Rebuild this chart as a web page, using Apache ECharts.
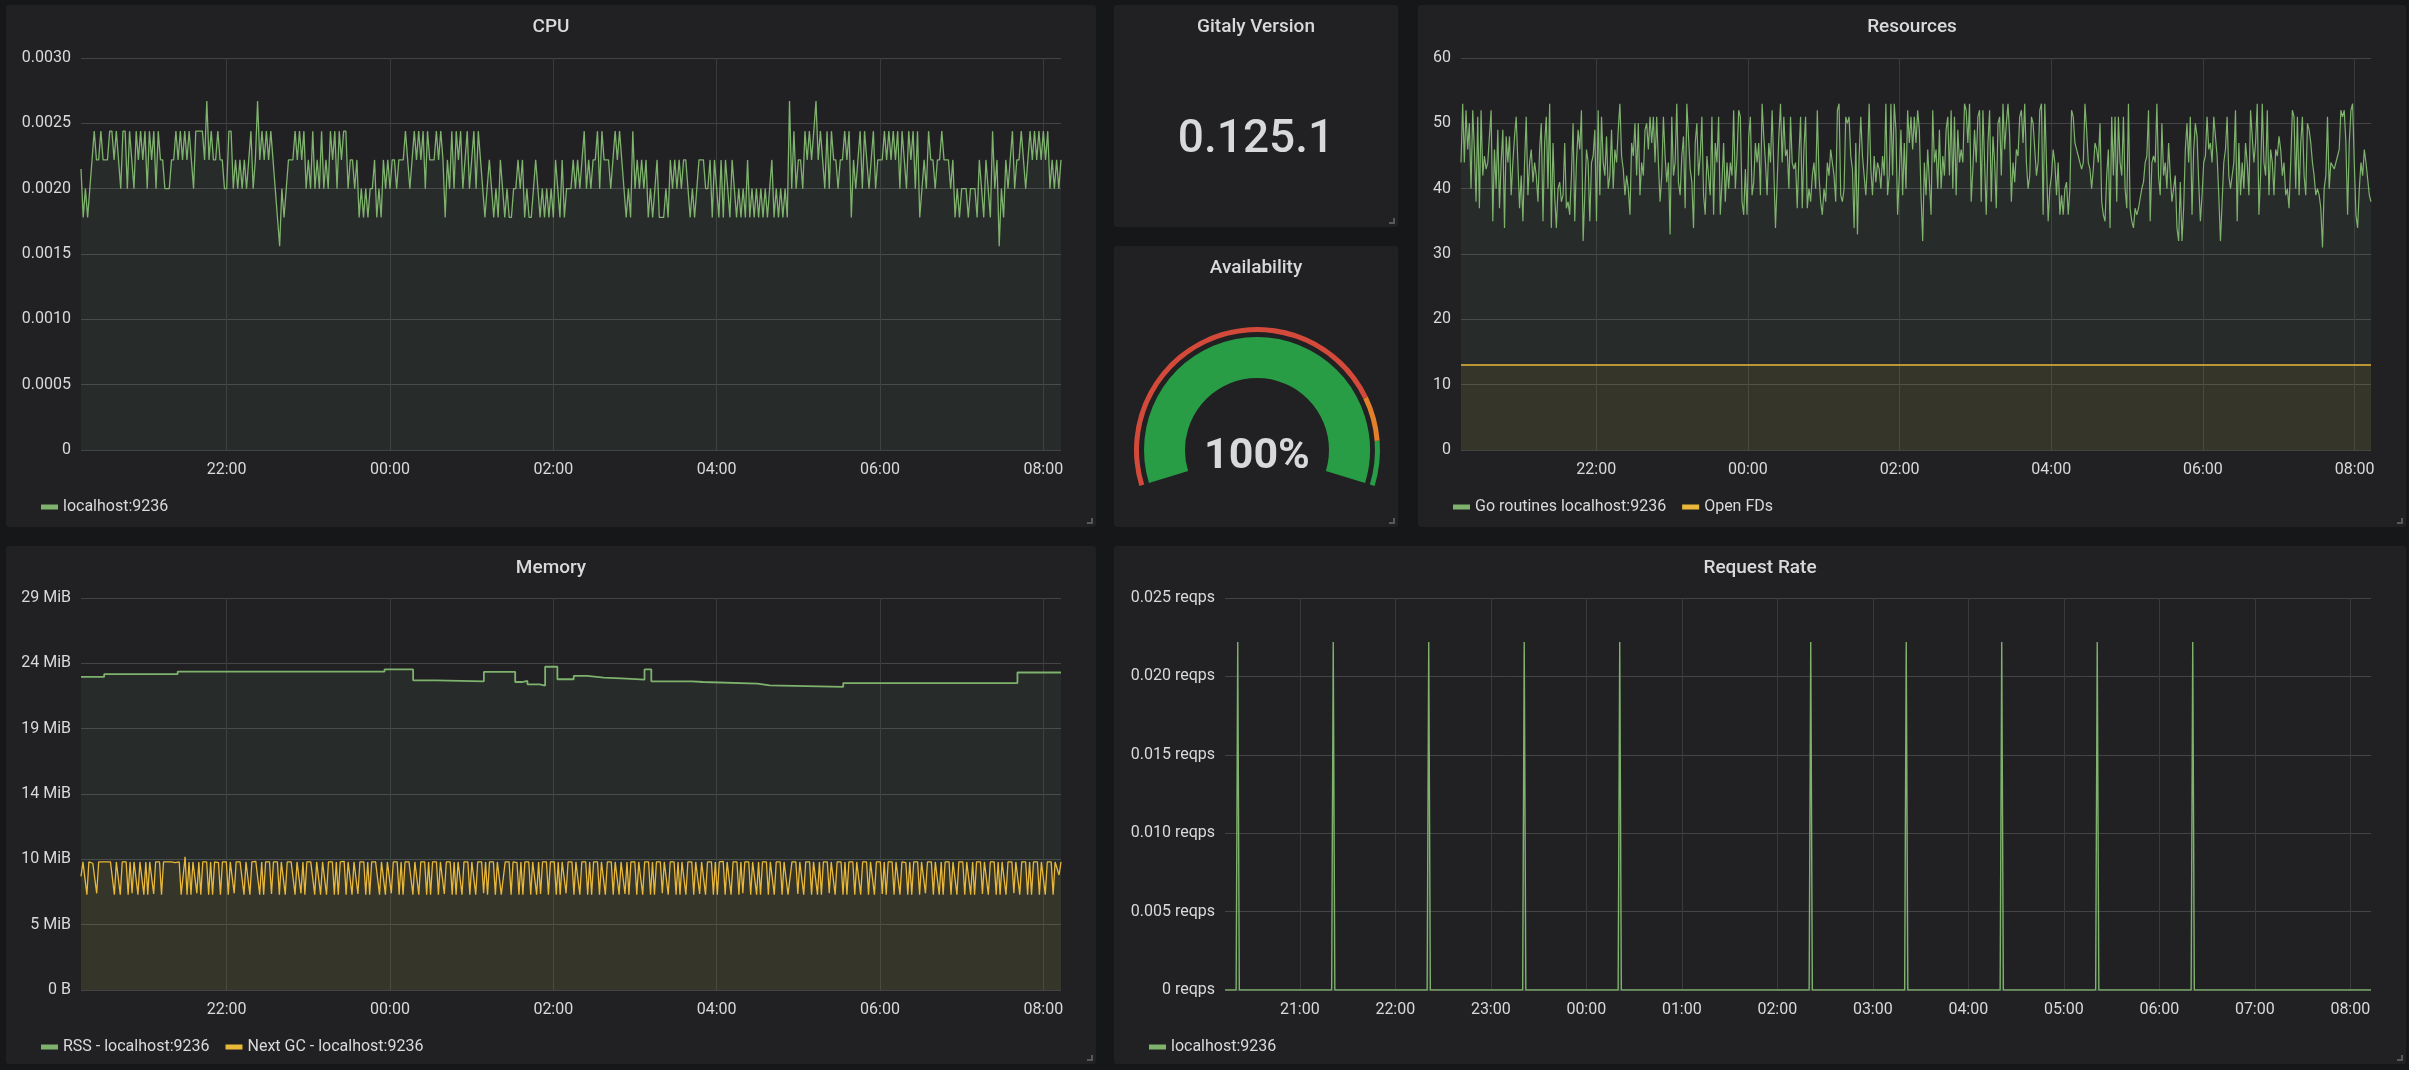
<!DOCTYPE html>
<html>
<head>
<meta charset="utf-8">
<title>Gitaly</title>
<script src="https://cdn.jsdelivr.net/npm/echarts@6/dist/echarts.min.js"></script>
<style>
  html, body { margin: 0; padding: 0; background: #161719; }
  body { width: 2409px; height: 1070px; position: relative; overflow: hidden; font-family: Roboto, sans-serif; }
  .panel { position: absolute; background: #212124; border-radius: 3px; }
  .panel::after { content: ""; position: absolute; right: 3px; bottom: 3px; width: 4px; height: 4px;
    border-right: 2px solid #58585b; border-bottom: 2px solid #58585b; }
</style>
</head>
<body>
<div class="panel" id="cpu" style="left:6px;top:5px;width:1090px;height:522px"></div>
<div class="panel" id="version" style="left:1114px;top:5px;width:284px;height:222px"></div>
<div class="panel" id="availability" style="left:1114px;top:246px;width:284px;height:281px"></div>
<div class="panel" id="resources" style="left:1418px;top:5px;width:988px;height:522px"></div>
<div class="panel" id="memory" style="left:6px;top:546px;width:1090px;height:518px"></div>
<div class="panel" id="requests" style="left:1114px;top:546px;width:1292px;height:518px"></div>
<script>
// time window of the dashboard
const rangeFrom = "20:13";
const rangeTo = "08:13";

// CPU (localhost:9236), evenly sampled over the window
const cpuUsage = [
  0.00215,0.00178,0.0020,0.00178,0.0020,0.00222,0.00244,0.00222,0.00222,0.00244,
  0.00222,0.00222,0.00222,0.00244,0.00244,0.00222,0.00244,0.00222,0.0020,0.00244,
  0.00244,0.0020,0.00244,0.00222,0.0020,0.00244,0.00222,0.00244,0.00222,0.00244,
  0.0020,0.00244,0.00222,0.00244,0.0020,0.00244,0.00222,0.00222,0.0020,0.0020,
  0.0020,0.00222,0.00222,0.00244,0.00222,0.00244,0.00222,0.00244,0.00222,0.00244,
  0.00222,0.0020,0.00244,0.00244,0.00244,0.00244,0.00222,0.00267,0.00222,0.00244,
  0.00222,0.00222,0.00244,0.00222,0.00222,0.0020,0.0020,0.00244,0.00244,0.0020,
  0.00222,0.0020,0.00222,0.0020,0.00222,0.0020,0.00222,0.00244,0.0020,0.00222,
  0.00267,0.00222,0.00244,0.00222,0.00244,0.00222,0.00244,0.00222,0.0020,0.00178,
  0.00156,0.0020,0.00178,0.0020,0.00222,0.00222,0.00222,0.00244,0.00222,0.00244,
  0.00222,0.00244,0.0020,0.00222,0.0020,0.00244,0.0020,0.00222,0.0020,0.00244,
  0.0020,0.00222,0.0020,0.00244,0.00222,0.00244,0.0020,0.00244,0.00222,0.00244,
  0.00244,0.0020,0.00222,0.00222,0.0020,0.00222,0.00178,0.0020,0.00178,0.0020,
  0.00178,0.0020,0.0020,0.00222,0.00178,0.0020,0.00178,0.00222,0.0020,0.00222,
  0.0020,0.00222,0.00222,0.0020,0.00222,0.00222,0.00222,0.00244,0.00222,0.0020,
  0.00222,0.00244,0.00222,0.00244,0.00222,0.00244,0.0020,0.00244,0.00222,0.00222,
  0.00222,0.00244,0.00222,0.00244,0.00222,0.00178,0.00222,0.0020,0.00244,0.0020,
  0.00244,0.00222,0.00244,0.0020,0.00222,0.00244,0.0020,0.00222,0.00244,0.0020,
  0.00244,0.00222,0.0020,0.00178,0.0020,0.00222,0.0020,0.00178,0.0020,0.00178,
  0.00222,0.0020,0.00178,0.0020,0.00178,0.00178,0.0020,0.0020,0.00222,0.0020,0.00222,
  0.00178,0.0020,0.00178,0.00178,0.0020,0.00222,0.0020,0.00178,0.0020,0.00178,
  0.0020,0.00178,0.0020,0.00178,0.00222,0.0020,0.00178,0.00222,0.00178,0.0020,
  0.0020,0.0020,0.00222,0.0020,0.00222,0.0020,0.00222,0.00244,0.0020,0.00222,
  0.0020,0.00222,0.00222,0.00244,0.0020,0.00244,0.00222,0.00222,0.00222,0.0020,
  0.00222,0.00244,0.00222,0.00244,0.00222,0.0020,0.00178,0.0020,0.00178,0.00244,
  0.0020,0.00222,0.0020,0.00222,0.0020,0.00222,0.00178,0.0020,0.00178,0.0020,
  0.00222,0.00178,0.00178,0.00178,0.0020,0.00178,0.00222,0.0020,0.00222,0.0020,
  0.00222,0.0020,0.00222,0.00222,0.0020,0.00178,0.0020,0.00178,0.0020,0.00222,
  0.00222,0.00222,0.0020,0.0020,0.00222,0.00178,0.00222,0.0020,0.00178,0.00222,
  0.00178,0.00222,0.0020,0.00178,0.00222,0.0020,0.00178,0.0020,0.00178,0.0020,
  0.00178,0.00222,0.00178,0.0020,0.00178,0.0020,0.00178,0.0020,0.00178,0.0020,
  0.00178,0.0020,0.00222,0.00178,0.0020,0.00178,0.0020,0.00178,0.0020,0.00178,
  0.00267,0.0020,0.00244,0.0020,0.00222,0.00222,0.0020,0.00244,0.00222,0.00244,
  0.00222,0.00244,0.00267,0.00222,0.00244,0.00222,0.0020,0.00244,0.0020,0.00244,
  0.00222,0.00222,0.0020,0.00222,0.00222,0.00244,0.00222,0.00244,0.00178,0.00222,
  0.0020,0.00222,0.00244,0.0020,0.00244,0.00222,0.0020,0.00222,0.00244,0.0020,
  0.00222,0.00222,0.00222,0.00244,0.00222,0.00244,0.00222,0.00244,0.00222,0.00244,
  0.0020,0.00244,0.00222,0.0020,0.00244,0.00222,0.00244,0.0020,0.00244,0.00178,
  0.0020,0.00222,0.0020,0.00244,0.00222,0.00222,0.0020,0.00222,0.00222,0.00244,
  0.00222,0.00222,0.00222,0.0020,0.00222,0.00178,0.0020,0.00178,0.0020,0.0020,
  0.0020,0.00178,0.0020,0.0020,0.0020,0.00178,0.00222,0.0020,0.00178,0.00222,
  0.0020,0.00178,0.00244,0.0020,0.00222,0.00156,0.0020,0.00178,0.00222,0.0020,
  0.00222,0.00244,0.0020,0.00222,0.00222,0.00244,0.00222,0.0020,0.00222,0.00244,
  0.00222,0.00244,0.00222,0.00244,0.00222,0.00244,0.00222,0.00244,0.0020,0.00222,
  0.0020,0.00222,0.0020,0.00222
];

// Resources: go routines (evenly sampled) and open file descriptors
const goRoutines = [
  44,53,44,52,46,50,40,52,46,38,51,37,52,42,45,43,44,48,52,35,46,40,49,37,44,49,34,48,44,48,
  39,44,48,51,44,37,42,35,44,51,39,44,46,41,44,42,38,46,50,35,47,51,40,53,34,47,39,34,40,41,
  38,39,47,37,38,36,42,50,35,44,49,46,52,32,39,46,44,35,44,45,49,35,52,39,51,44,42,48,40,42,
  49,40,46,44,49,53,45,43,39,42,40,36,47,45,50,42,50,39,44,42,49,50,46,51,47,51,44,51,44,38,
  42,51,45,41,44,33,51,42,44,53,41,39,45,48,37,53,53,43,41,34,47,50,42,45,51,39,36,45,42,39,
  51,36,47,44,51,36,41,47,38,44,40,44,42,52,40,45,52,51,38,36,43,36,48,51,39,41,47,44,47,39,
  53,48,44,39,47,44,52,43,34,34,48,53,44,51,45,46,40,51,44,43,44,37,45,51,37,46,51,37,40,38,
  42,44,40,52,42,38,36,40,38,44,42,46,46,42,38,52,53,39,38,40,51,50,51,45,43,34,47,33,45,51,
  45,42,39,44,53,43,39,45,41,44,43,40,45,42,53,39,42,53,42,53,49,36,42,49,39,47,40,52,47,51,
  46,51,47,52,49,
  39,32,44,39,46,46,36,52,44,46,40,49,40,45,42,49,51,42,52,40,51,39,49,44,46,44,53,52,47,53,
  38,43,49,44,51,52,38,52,44,36,47,52,38,48,44,37,50,51,42,53,46,50,53,48,38,44,41,46,45,51,
  52,47,53,44,40,42,51,50,46,42,44,52,53,36,53,44,35,40,42,46,44,39,44,36,39,36,40,41,36,40,
  52,51,47,46,45,44,43,44,53,49,44,43,40,43,47,46,44,50,38,36,35,42,46,34,51,42,51,38,51,44,
  42,51,40,37,53,37,35,34,37,36,37,37,40,41,44,45,52,35,44,45,44,53,42,39,50,42,44,40,47,42,
  38,38,42,34,32,41,32,37,46,50,44,51,36,46,50,48,41,35,39,44,45,51,46,47,44,51,48,45,39,32,
  38,44,46,51,42,40,40,44,52,35,47,39,44,40,47,44,39,52,52,44,47,53,36,42,53,44,42,52,39,46,
  44,39,46,45,48,46,42,44,39,40,37,44,52,51,40,51,39,47,51,42,39,50,49,47,44,42,39,40,39,37,
  31,40,42,51,40,44,44,43,44,45,46,52,51,52,47,36,47,52,53,44,36,34,40,44,42,46,44,44,39,38
];
const openFds = [13,13,13,13,13,13,13,13,13,13,13,13,13];

// Memory in MB (1e6 bytes): RSS changes (held until the next time) and Next GC (evenly sampled)
const rssTimes = ["20:13","20:30","21:24","23:56","00:17","00:34","01:09","01:32","01:37","01:41","01:50","01:54","02:03",
  "02:15","02:25","02:37","02:50","03:07","03:12","03:42","03:50","04:30","04:39","05:33","07:41","08:13"];
const rssMB = [23.96,24.17,24.37,24.53,23.70,23.62,24.35,23.57,23.65,23.39,23.30,24.74,23.78,
  24.04,23.91,23.85,23.75,24.53,23.62,23.57,23.44,23.31,23.20,23.49,24.30,24.30];
const nextGcMB = [
  8.7,9.8,9.8,7.3,9.8,9.8,9.7,9.8,7.4,9.8,9.8,9.8,9.8,9.8,9.75,9.8,9.8,7.3,9.8,9.8,7.3,9.8,9.8,9.8,7.3,
  9.8,7.4,9.8,9.75,7.3,9.8,9.8,7.3,9.8,7.3,9.8,9.8,7.35,9.8,9.8,9.8,7.3,9.8,9.8,9.8,9.85,9.8,9.8,9.75,9.8,
  9.8,7.3,7.3,10.2,7.3,9.8,7.3,9.8,9.8,7.4,9.8,7.3,9.8,9.8,9.8,7.3,9.8,7.3,9.8,9.8,9.75,7.3,9.8,9.8,9.8,
  7.3,9.8,9.8,7.4,9.8,9.8,9.8,9.8,7.3,9.8,9.8,7.3,9.8,9.8,9.85,9.8,7.3,9.8,7.3,9.8,9.8,9.8,7.35,9.8,9.8,
  9.8,7.3,9.8,9.8,7.3,9.8,9.75,9.8,9.8,7.3,9.8,9.8,7.4,9.8,7.3,9.8,9.8,9.8,9.8,7.3,9.8,9.8,7.3,9.8,9.8,
  7.3,9.8,9.8,9.8,7.3,9.8,7.3,9.8,9.8,9.85,7.3,9.8,9.8,7.3,9.8,9.8,7.35,9.8,9.8,9.8,7.3,9.8,7.3,9.8,9.8,
  9.8,9.75,7.3,9.8,9.8,7.3,9.8,9.8,7.4,9.8,9.8,9.8,7.3,9.8,7.3,9.8,9.8,9.8,9.8,7.3,9.8,9.8,7.3,9.8,9.75,
  9.8,7.3,9.8,7.3,9.8,9.8,9.8,7.3,9.8,9.8,7.35,9.8,9.8,9.8,7.3,9.8,7.3,9.8,9.8,7.3,9.8,9.85,9.8,7.3,9.8,
  9.8,7.3,9.8,9.8,9.8,7.4,9.8,7.3,9.8,9.8,9.8,7.3,9.8,9.8,7.3,7.3,9.8,9.8,9.8,7.3,9.8,9.8,9.75,7.3,9.8,
  7.3,9.8,9.8,9.8,7.3,9.8,9.8,7.3,9.8,7.35,9.8,9.8,9.8,7.3,9.8,9.8,9.8,7.3,9.8,7.3,9.8,9.8,7.4,9.8,9.8,
  9.8,7.3,9.8,9.8,7.3,9.8,9.8,9.8,7.3,9.8,7.3,9.8,9.85,9.8,7.3,9.8,9.8,7.3,9.8,9.8,9.8,7.3,9.8,9.8,7.3,
  9.8,9.8,7.35,9.8,7.3,9.8,9.8,9.8,7.3,9.8,9.8,7.3,9.8,9.75,9.8,7.3,9.8,7.3,9.8,9.8,9.8,7.4,9.8,9.8,7.3,
  9.8,9.8,9.8,7.3,9.8,7.3,9.8,9.8,7.3,9.8,9.8,9.8,7.3,9.8,9.8,7.35,9.8,9.8,7.3,9.8,9.8,9.8,7.3,9.8,7.3,
  9.8,9.8,9.85,7.3,9.8,9.8,7.3,9.8,9.8,9.8,7.3,9.8,7.4,9.8,9.8,9.8,7.3,9.8,9.8,7.3,9.8,7.3,9.8,9.8,9.8,
  7.3,9.8,9.8,7.3,9.8,9.75,9.8,7.3,9.8,9.8,7.3,7.3,9.8,9.8,9.8,7.35,9.8,9.8,7.3,9.8,9.8,9.8,7.3,9.8,9.8,
  7.3,9.8,7.3,9.8,9.8,9.8,7.4,9.8,9.8,7.3,9.8,9.8,9.8,7.3,9.8,7.3,9.8,9.85,9.8,7.3,9.8,9.8,7.3,9.8,9.8,
  9.8,7.3,9.8,9.8,7.3,9.8,9.8,9.8,7.35,9.8,7.3,9.8,9.8,9.8,7.3,9.8,9.8,7.3,9.8,9.8,9.75,7.3,9.8,7.3,9.8,
  9.8,9.8,7.3,9.8,9.8,7.4,9.8,9.8,9.8,7.3,9.8,9.8,7.3,9.8,7.3,9.8,9.8,9.8,7.3,9.8,9.8,7.3,9.8,9.85,9.8,
  7.3,9.8,9.8,7.3,9.8,7.3,9.8,9.8,9.8,7.35,9.8,9.8,7.3,9.8,9.8,9.8,7.3,9.8,7.3,9.8,9.8,7.3,9.8,9.8,9.8,
  7.4,9.8,9.8,7.3,9.8,9.8,9.8,7.3,9.8,7.3,9.8,9.8,9.8,7.3,9.8,9.8,7.3,9.8,9.75,9.8,7.3,9.8,9.8,8.8,9.8
];

// Request rate samples (reqps)
const reqTimes = ["20:13","20:20","20:21","20:22","21:20","21:21","21:22","22:20","22:21","22:22",
  "23:20","23:21","23:22","00:20","00:21","00:22","02:20","02:21","02:22","03:20","03:21","03:22",
  "04:20","04:21","04:22","05:20","05:21","05:22","06:20","06:21","06:22","08:13"];
const reqRates = [0,0,0.0222,0,0,0.0222,0,0,0.0222,0,
  0,0.0222,0,0,0.0222,0,0,0.0222,0,0,0.0222,0,
  0,0.0222,0,0,0.0222,0,0,0.0222,0,0];

// single stats
const gitalyVersion = "0.125.1";
const availability = 100;
const availabilityThresholds = [80, 90];

// ---------------------------------------------------------------
const TEXT = "#d8d9da";
const GRID_H = "#444447";
const GRID_V = "#3a3a3d";
const GREEN = "#7eb26d";
const YELLOW = "#eab839";
const GREEN_FILL = "rgba(126,178,109,0.1)";
const YELLOW_FILL = "rgba(234,184,57,0.1)";
const FONT = "Roboto";

// "HH:MM" -> timestamp; evening hours belong to the first day
function ts(hm) {
  const [h, m] = hm.split(":").map(Number);
  return new Date(2019, 0, h >= 12 ? 1 : 2, h, m).getTime();
}
const tStart = ts(rangeFrom);
const tEnd = ts(rangeTo);

function spread(values) {
  const step = (tEnd - tStart) / (values.length - 1);
  return values.map((v, i) => [tStart + i * step, v]);
}
function pairs(times, values) {
  return times.map((t, i) => [ts(t), values[i]]);
}

function timeAxis(hours) {
  const iv = hours * 3600 * 1000 * 1.05;
  return {
    type: "time", min: tStart, max: tEnd,
    minInterval: iv, maxInterval: iv,
    axisLine: { show: false }, axisTick: { show: false },
    axisLabel: { color: TEXT, fontSize: 16, fontFamily: FONT, margin: 12, formatter: "{HH}:{mm}",
      showMinLabel: false, showMaxLabel: false },
    splitLine: { show: true, showMinLine: false, showMaxLine: false, lineStyle: { color: GRID_V, width: 1 } }
  };
}

function valueAxis(max, interval, formatter) {
  return {
    type: "value", min: 0, max: max, interval: interval,
    axisLine: { show: false }, axisTick: { show: false },
    axisLabel: { color: TEXT, fontSize: 16, fontFamily: FONT, margin: 10, formatter: formatter },
    splitLine: { lineStyle: { color: GRID_H, width: 1 } }
  };
}

function line(name, data, color, fill, width, step) {
  return {
    name: name, type: "line", data: data, step: step || false,
    symbol: "none", showSymbol: false, sampling: false,
    lineStyle: { color: color, width: width || 1.3 },
    itemStyle: { color: color },
    areaStyle: { color: fill },
    emphasis: { disabled: true }
  };
}

function titleOf(text) {
  return { text: text, left: "center", top: 8,
    textStyle: { color: TEXT, fontSize: 19, fontWeight: 500, fontFamily: FONT } };
}

function graph(id, o) {
  const chart = echarts.init(document.getElementById(id), null, { renderer: "canvas" });
  chart.setOption({
    animation: false,
    backgroundColor: "transparent",
    title: titleOf(o.title),
    grid: { left: o.left, right: 35, top: o.top, bottom: o.bottom },
    legend: {
      left: 30, top: o.legendTop, icon: "rect", itemWidth: 17, itemHeight: 5, itemGap: 16,
      textStyle: { color: TEXT, fontSize: 16, fontFamily: FONT },
      data: o.series.map(s => s.name), selectedMode: false
    },
    xAxis: timeAxis(o.hours),
    yAxis: o.yAxis,
    series: o.series
  });
}

graph("cpu", {
  title: "CPU", left: 75, top: 53, bottom: 77, legendTop: 489, hours: 2,
  yAxis: valueAxis(0.003, 0.0005, v => v === 0 ? "0" : v.toFixed(4)),
  series: [line("localhost:9236", spread(cpuUsage), GREEN, GREEN_FILL)]
});

graph("resources", {
  title: "Resources", left: 43, top: 53, bottom: 77, legendTop: 489, hours: 2,
  yAxis: valueAxis(60, 10, v => String(v)),
  series: [
    line("Go routines localhost:9236", spread(goRoutines), GREEN, GREEN_FILL, 1.2),
    line("Open FDs", spread(openFds), YELLOW, YELLOW_FILL, 1.6)
  ]
});

// y values are MB; labels shown in MiB
graph("memory", {
  title: "Memory", left: 75, top: 52, bottom: 74, legendTop: 488, hours: 2,
  yAxis: valueAxis(30, 5, v => v === 0 ? "0 B" : Math.round(v * 1e6 / 1048576) + " MiB"),
  series: [
    line("RSS - localhost:9236", pairs(rssTimes, rssMB), GREEN, GREEN_FILL, 1.8, "end"),
    line("Next GC - localhost:9236", spread(nextGcMB), YELLOW, YELLOW_FILL, 1.3)
  ]
});

graph("requests", {
  title: "Request Rate", left: 111, top: 52, bottom: 74, legendTop: 488, hours: 1 / 1.05,
  yAxis: valueAxis(0.025, 0.005, v => (v === 0 ? "0" : v.toFixed(3)) + " reqps"),
  series: [line("localhost:9236", pairs(reqTimes, reqRates), GREEN, GREEN_FILL, 1.4)]
});

// Gitaly version single stat
echarts.init(document.getElementById("version")).setOption({
  animation: false,
  title: [
    titleOf("Gitaly Version"),
    { text: gitalyVersion, left: "center", top: 107,
      textStyle: { color: TEXT, fontSize: 46, fontWeight: 500, fontFamily: FONT } }
  ]
});

// Availability gauge
const RED = "#d44a3a", ORANGE = "#e47f2a", GAUGE_GREEN = "#299c46";
const valueColor = availability >= availabilityThresholds[1] ? GAUGE_GREEN
  : availability >= availabilityThresholds[0] ? ORANGE : RED;
const gaugeBase = {
  type: "gauge", center: [143, 204], startAngle: 197, endAngle: -17, min: 0, max: 100,
  pointer: { show: false }, axisTick: { show: false }, splitLine: { show: false },
  axisLabel: { show: false }, title: { show: false }, anchor: { show: false }
};
echarts.init(document.getElementById("availability")).setOption({
  animation: false,
  title: titleOf("Availability"),
  series: [
    Object.assign({}, gaugeBase, {
      radius: 123,
      axisLine: { lineStyle: { width: 5, color: [
        [availabilityThresholds[0] / 100, RED],
        [availabilityThresholds[1] / 100, ORANGE],
        [1, GAUGE_GREEN]] } },
      detail: { show: false },
      data: [{ value: availability }]
    }),
    Object.assign({}, gaugeBase, {
      radius: 113,
      axisLine: { lineStyle: { width: 41, color: [[1, "rgba(0,0,0,0)"]] } },
      progress: { show: true, width: 41, roundCap: false, itemStyle: { color: valueColor } },
      detail: { formatter: "{value}%", offsetCenter: [0, 7], fontSize: 43, fontWeight: "bold",
        fontFamily: FONT, color: TEXT },
      data: [{ value: availability }]
    })
  ]
});
</script>
</body>
</html>
